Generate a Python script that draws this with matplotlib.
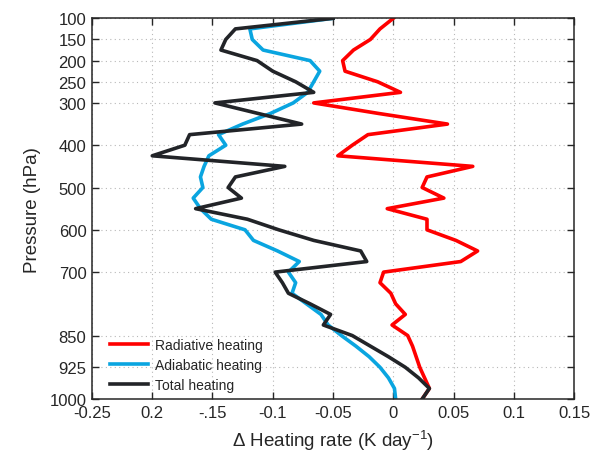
import matplotlib
matplotlib.use("Agg")
import matplotlib.pyplot as plt

plt.rcParams['font.family'] = ['Liberation Sans', 'DejaVu Sans']
plt.rcParams['mathtext.default'] = 'regular'

# pressure levels (hPa)
pressure = [100, 125, 150, 175, 200, 225, 250, 275, 300, 325, 350, 375, 400,
            425, 450, 475, 500, 525, 550, 575, 600, 625, 650, 675, 700, 725,
            750, 775, 800, 825, 850, 875, 900, 925, 950, 975, 1000]

radiative = [0.000, -0.011, -0.019, -0.033, -0.042, -0.040, -0.013, 0.006,
             -0.066, -0.012, 0.045, -0.021, -0.034, -0.046, 0.066, 0.028,
             0.024, 0.042, -0.005, 0.028, 0.028, 0.052, 0.070, 0.056,
             -0.008, -0.011, -0.002, 0.002, 0.010, -0.001, 0.012, 0.016,
             0.019, 0.022, 0.026, 0.030, 0.024]

adiabatic = [-0.050, -0.119, -0.117, -0.108, -0.069, -0.061, -0.066, -0.071,
             -0.083, -0.102, -0.125, -0.145, -0.139, -0.153, -0.157, -0.160,
             -0.158, -0.166, -0.160, -0.151, -0.123, -0.116, -0.096, -0.078,
             -0.087, -0.081, -0.084, -0.072, -0.060, -0.054, -0.043, -0.031,
             -0.020, -0.011, -0.004, 0.001, 0.002]

total = [-0.050, -0.131, -0.139, -0.143, -0.113, -0.100, -0.081, -0.066,
         -0.148, -0.112, -0.076, -0.169, -0.173, -0.200, -0.090, -0.131,
         -0.137, -0.126, -0.164, -0.121, -0.095, -0.066, -0.027, -0.022,
         -0.098, -0.092, -0.087, -0.069, -0.052, -0.058, -0.034, -0.019,
         -0.004, 0.010, 0.021, 0.030, 0.024]

xticks = [-0.25, -0.2, -0.15, -0.1, -0.05, 0, 0.05, 0.1, 0.15]
xticklabels = ['-0.25', '0.2', '-.15', '-0.1', '-0.05', '0', '0.05', '0.1', '0.15']
yticks = [100, 150, 200, 250, 300, 400, 500, 600, 700, 850, 925, 1000]

fig = plt.figure(figsize=(5.92, 4.6), dpi=100)
ax = fig.add_axes([0.1554, 0.1304, 0.8142, 0.8276])

ax.plot(radiative, pressure, color='#ff0000', lw=2.6, label='Radiative heating')
ax.plot(adiabatic, pressure, color='#0aa5e0', lw=2.6, label='Adiabatic heating')
ax.plot(total, pressure, color='#222428', lw=2.6, label='Total heating')

ax.set_xlim(-0.25, 0.15)
ax.set_ylim(1000, 100)
ax.set_xticks(xticks)
ax.set_xticklabels(xticklabels)
ax.set_yticks(yticks)

ax.grid(True, linestyle=(0, (1, 3)), color='#b8b8b8', lw=0.8)
ax.tick_params(direction='in', top=True, right=True, length=5, width=1,
               labelsize=12, colors='#262626', pad=4)
for s in ax.spines.values():
    s.set_color('#262626')
    s.set_linewidth(1.1)

ax.set_xlabel('Δ Heating rate (K day$^{-1}$)', fontsize=13.5, color='#262626', labelpad=6)
ax.set_ylabel('Pressure (hPa)', fontsize=13.5, color='#262626', labelpad=6)

leg = ax.legend(loc='lower left', bbox_to_anchor=(0.026, 0.004), frameon=False,
                fontsize=10, handlelength=2.75, borderaxespad=0,
                labelspacing=0.42, handletextpad=0.5)
for t in leg.get_texts():
    t.set_color('#262626')

fig.savefig('out.png', dpi=100)
